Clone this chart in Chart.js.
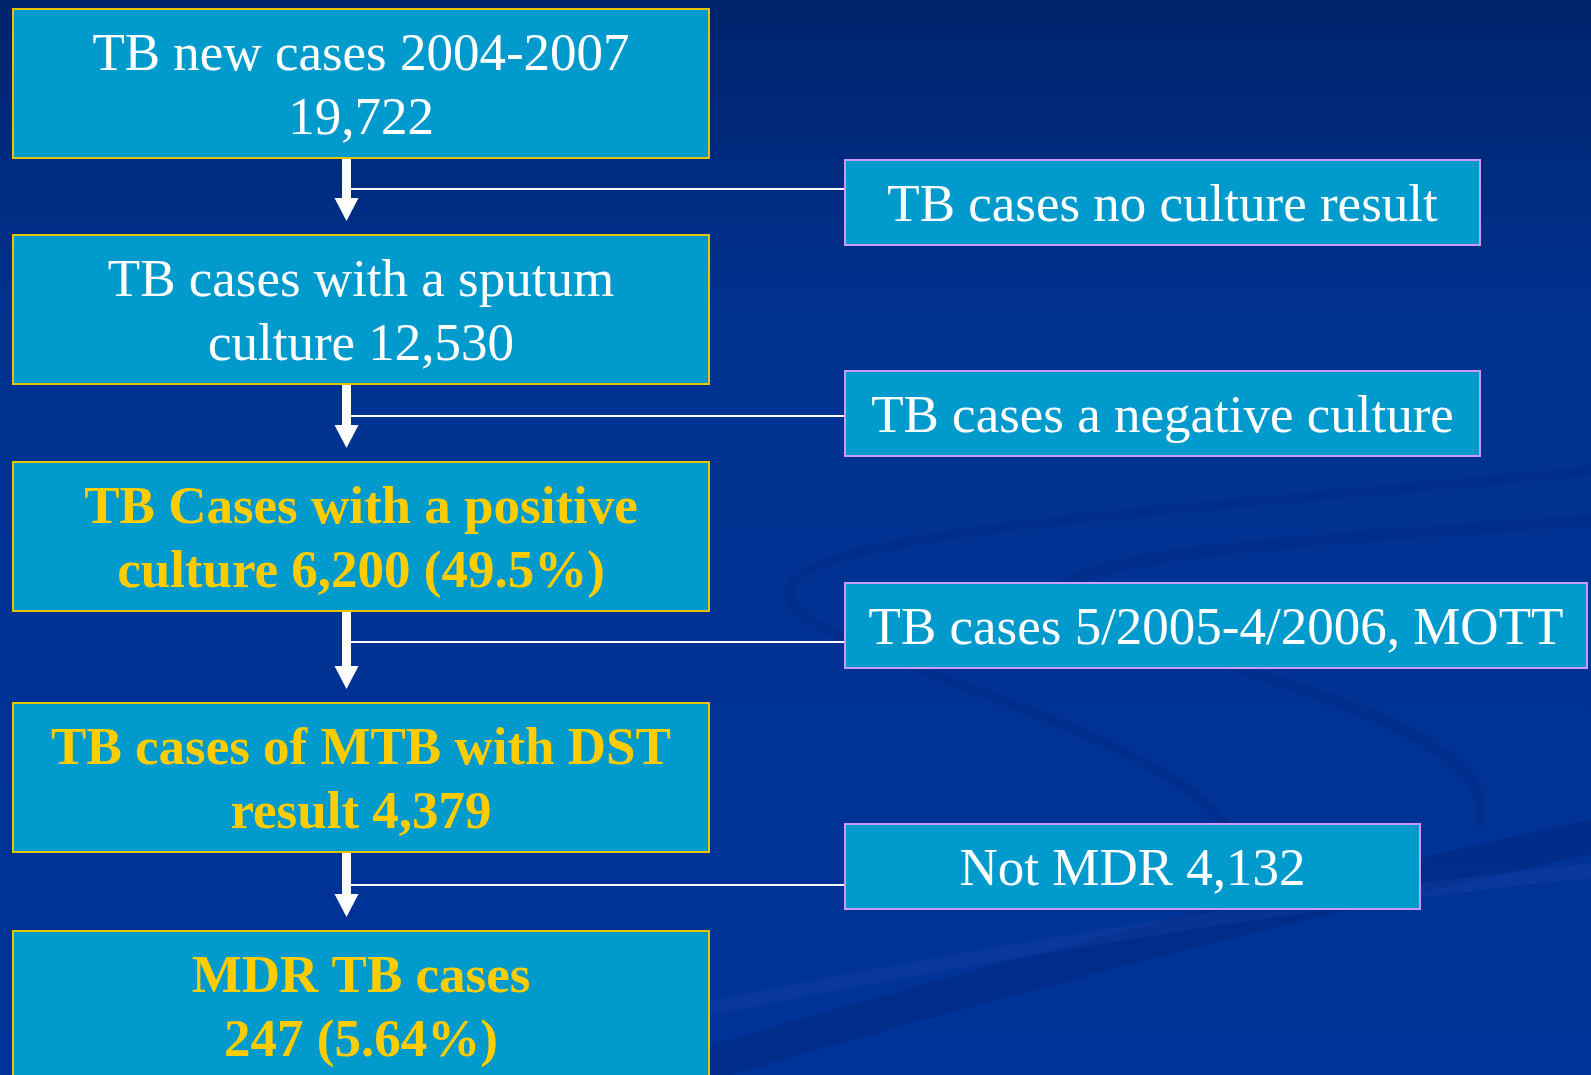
<!DOCTYPE html>
<html>
<head>
<meta charset="utf-8">
<title>MDR TB flow</title>
<script src="https://cdn.jsdelivr.net/npm/chart.js@4.4.1/dist/chart.umd.min.js"></script>
<style>
  html, body { margin: 0; padding: 0; overflow: hidden; background: #003399; }
  canvas { display: block; }
</style>
</head>
<body>
<canvas id="flow" width="1591" height="1075"></canvas>
<script>
// text of the main steps (one entry per box, two lines each)
const stepLines = [
  ["TB new cases 2004-2007", "19,722"],
  ["TB cases with a sputum", "culture 12,530"],
  ["TB Cases with a positive", "culture 6,200 (49.5%)"],
  ["TB cases of MTB with DST", "result 4,379"],
  ["MDR TB cases", "247 (5.64%)"],
];
const stepHighlight = [false, false, true, true, true];

// side boxes: cases dropped at each step
const exclusionLabels = [
  "TB cases no culture result",
  "TB cases a negative culture",
  "TB cases 5/2005-4/2006, MOTT",
  "Not MDR 4,132",
];

// layout (in scale units, the scales span the whole page)
const stepTops = [9, 235, 462, 703, 931];
const stepHeight = 149;
const stepLeft = 13, stepRight = 709;
const exclTops = [160, 371, 583, 824];
const exclHeight = 85;
const exclLeft = 845;
const exclRights = [1480, 1480, 1587, 1420];
const branchY = [189, 416, 642, 885];
const arrowX = 346.5;
const FONT = "53px 'Liberation Serif', 'Times New Roman', serif";

const flowPlugin = {
  id: "flow",
  beforeDraw(chart) {
    const { ctx, width, height } = chart;
    const g = ctx.createLinearGradient(0, 0, 0, height);
    g.addColorStop(0, "#00236c");
    g.addColorStop(0.3, "#003290");
    g.addColorStop(1, "#003399");
    ctx.save();
    ctx.fillStyle = g;
    ctx.fillRect(0, 0, width, height);

    const x = chart.scales.x, y = chart.scales.y;
    const P = (a, b) => [x.getPixelForValue(a), y.getPixelForValue(b)];

    // faint swooshes in the background
    ctx.lineCap = "round";
    ctx.strokeStyle = "rgba(0, 30, 110, 0.3)";
    ctx.lineWidth = 34;
    ctx.beginPath();
    ctx.moveTo(...P(620, 1090));
    ctx.bezierCurveTo(...P(950, 990), ...P(1300, 900), ...P(1600, 835));
    ctx.stroke();
    ctx.strokeStyle = "rgba(40, 80, 180, 0.2)";
    ctx.lineWidth = 14;
    ctx.beginPath();
    ctx.moveTo(...P(700, 1010));
    ctx.bezierCurveTo(...P(1000, 950), ...P(1300, 900), ...P(1600, 870));
    ctx.stroke();

    ctx.strokeStyle = "rgba(0, 30, 110, 0.22)";
    ctx.lineWidth = 9;
    ctx.beginPath();
    ctx.moveTo(...P(1600, 470));
    ctx.bezierCurveTo(...P(1200, 510), ...P(760, 530), ...P(790, 600));
    ctx.bezierCurveTo(...P(820, 660), ...P(1150, 720), ...P(1230, 830));
    ctx.stroke();
    ctx.lineWidth = 11;
    ctx.beginPath();
    ctx.moveTo(...P(1600, 520));
    ctx.bezierCurveTo(...P(1300, 540), ...P(980, 560), ...P(1080, 610));
    ctx.bezierCurveTo(...P(1200, 670), ...P(1500, 720), ...P(1480, 820));
    ctx.stroke();
    ctx.restore();
  },
  afterDraw(chart) {
    const { ctx } = chart;
    const x = chart.scales.x, y = chart.scales.y;
    const px = (v) => x.getPixelForValue(v);
    const py = (v) => y.getPixelForValue(v);
    ctx.save();

    // connectors: vertical arrows and branch lines
    ctx.fillStyle = "#ffffff";
    ctx.strokeStyle = "#ffffff";
    for (let i = 0; i < stepTops.length - 1; i++) {
      const from = stepTops[i] + stepHeight;
      const tip = stepTops[i + 1] - 14;
      ctx.fillRect(px(arrowX - 4.5), py(from), px(9) - px(0), py(tip - 22) - py(from));
      ctx.beginPath();
      ctx.moveTo(px(arrowX - 12), py(tip - 23));
      ctx.lineTo(px(arrowX + 12), py(tip - 23));
      ctx.lineTo(px(arrowX), py(tip));
      ctx.closePath();
      ctx.fill();

      ctx.lineWidth = 2;
      ctx.beginPath();
      ctx.moveTo(px(arrowX), py(branchY[i]));
      ctx.lineTo(px(exclLeft), py(branchY[i]));
      ctx.stroke();
    }

    ctx.textAlign = "center";
    ctx.textBaseline = "middle";

    // main steps
    stepLines.forEach((lines, i) => {
      const top = py(stepTops[i]);
      const h = py(stepTops[i] + stepHeight) - top;
      ctx.fillStyle = "#009acd";
      ctx.fillRect(px(stepLeft), top, px(stepRight) - px(stepLeft), h);
      ctx.strokeStyle = "#e8c400";
      ctx.lineWidth = 2;
      ctx.strokeRect(px(stepLeft), top, px(stepRight) - px(stepLeft), h);

      ctx.fillStyle = stepHighlight[i] ? "#ffcc00" : "#ffffff";
      ctx.font = (stepHighlight[i] ? "bold " : "") + FONT;
      const cx = px((stepLeft + stepRight) / 2);
      const cy = stepTops[i] + stepHeight / 2 + 5;
      ctx.fillText(lines[0], cx, py(cy - 32));
      ctx.fillText(lines[1], cx, py(cy + 32));
    });

    // exclusion boxes
    exclusionLabels.forEach((label, i) => {
      const top = py(exclTops[i]);
      const h = py(exclTops[i] + exclHeight) - top;
      const w = px(exclRights[i]) - px(exclLeft);
      ctx.fillStyle = "#009acd";
      ctx.fillRect(px(exclLeft), top, w, h);
      ctx.strokeStyle = "#cc99ff";
      ctx.lineWidth = 2;
      ctx.strokeRect(px(exclLeft), top, w, h);

      ctx.fillStyle = "#ffffff";
      ctx.font = FONT;
      ctx.fillText(label, px((exclLeft + exclRights[i]) / 2), py(exclTops[i] + exclHeight / 2 + 5));
    });

    ctx.restore();
  },
};

new Chart(document.getElementById("flow").getContext("2d"), {
  type: "scatter",
  data: { datasets: [{ data: [] }] },
  options: {
    responsive: false,
    animation: false,
    layout: { padding: 0 },
    scales: {
      x: { type: "linear", min: 0, max: 1591, display: false },
      y: { type: "linear", min: 0, max: 1075, reverse: true, display: false },
    },
    plugins: { legend: { display: false }, tooltip: { enabled: false } },
  },
  plugins: [flowPlugin],
});
</script>
</body>
</html>
